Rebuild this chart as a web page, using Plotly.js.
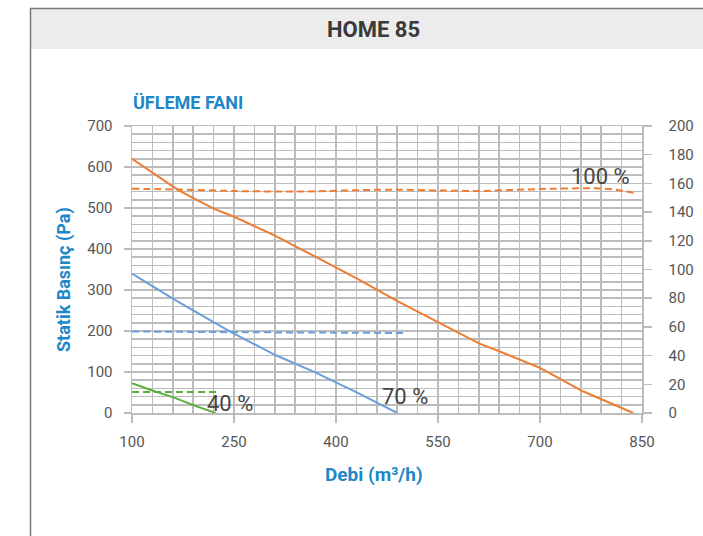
<!DOCTYPE html>
<html>
<head>
<meta charset="utf-8">
<script src="https://cdn.plot.ly/plotly-3.0.1.min.js"></script>
<style>
  html, body { margin: 0; padding: 0; background: #ffffff; }
  #chart { width: 703px; height: 536px; }
</style>
</head>
<body>
<div id="chart"></div>
<script>
// ---- Data ----
const flow100 = [100, 167, 190, 221, 251, 311, 371, 431, 491, 550, 611, 641, 700, 763, 837];
const pressure100 = [620, 545, 524, 498, 478, 432, 380, 328, 272, 221, 169, 150, 110, 53, 0];

const flow70 = [100, 163, 222, 245, 310, 371, 432, 490];
const pressure70 = [340, 276, 220, 198, 142, 98, 49, 0];

const flow40 = [100, 133, 163, 192, 223];
const pressure40 = [73, 53, 37, 18, 0];

const powerFlow100 = [100, 170, 250, 340, 464, 489, 550, 611, 700, 778, 812, 839];
const power100 = [156.3, 155.7, 154.7, 154.3, 155.6, 155.6, 155.1, 154.7, 156.1, 156.6, 155.6, 153.3];

const powerFlow70 = [100, 250, 400, 501];
const power70 = [56.8, 56.3, 56.0, 55.7];

const powerFlow40 = [100, 226];
const power40 = [14.6, 14.6];

const curveLabels = ["100 %", "70 %", "40 %"];
const labelFlow = [789, 501, 244];
const labelPressure = [578, 41, 24];

const xTickVals = [100, 250, 400, 550, 700, 850];
const chartTitle = "HOME 85";
const subTitle = "ÜFLEME FANI";
const xTitle = "Debi (m³/h)";
const yTitle = "Statik Basınç (Pa)";

// ---- Styling ----
const ORANGE = "#ed7d31";
const BLUE = "#6a9fdc";
const GREEN = "#5aae3e";
const GRID = "#bcbcbc";
const TICKTXT = "#555555";
const TITLEBLUE = "#1e87c8";
const FONT = "Roboto, 'Open Sans', sans-serif";

const W = 703, H = 536;
const M = { l: 132, r: 61, t: 126, b: 123 };
const pw = W - M.l - M.r, ph = H - M.t - M.b;
const px = x => (x - M.l) / pw;
const py = y => (H - M.b - y) / ph;

const solid = (x, y, c) => ({ x, y, type: "scatter", mode: "lines", xaxis: "x", yaxis: "y",
  line: { color: c, width: 2 }, hoverinfo: "skip", showlegend: false });
const dashed = (x, y, c) => ({ x, y, type: "scatter", mode: "lines", xaxis: "x", yaxis: "y2",
  line: { color: c, width: 2, dash: "7px,4px", shape: "spline", smoothing: 0.6 }, hoverinfo: "skip", showlegend: false });

const data = [
  dashed(powerFlow100, power100, ORANGE),
  dashed(powerFlow70, power70, BLUE),
  dashed(powerFlow40, power40, GREEN),
  solid(flow100, pressure100, ORANGE),
  solid(flow70, pressure70, BLUE),
  solid(flow40, pressure40, GREEN)
];

const annotations = curveLabels.map((t, i) => ({
  text: t, x: labelFlow[i], y: labelPressure[i], xref: "x", yref: "y",
  xanchor: "center", yanchor: "middle",
  showarrow: false, font: { family: FONT, size: 22, color: "#454545" }
}));

annotations.push(
  { text: chartTitle, xref: "paper", yref: "paper", x: px(373), y: py(29.5), xanchor: "center", yanchor: "middle", showarrow: false,
    font: { family: FONT, size: 22, color: "#3a3a3a", weight: 700 } },
  { text: subTitle, xref: "paper", yref: "paper", x: px(131), y: py(102), xanchor: "left", yanchor: "middle", showarrow: false,
    font: { family: FONT, size: 18, color: TITLEBLUE, weight: 700 } },
  { text: xTitle, xref: "paper", yref: "paper", x: px(374), y: py(474.5), xanchor: "center", yanchor: "middle", showarrow: false,
    font: { family: FONT, size: 19, color: TITLEBLUE, weight: 700 } },
  { text: yTitle, xref: "paper", yref: "paper", x: px(64), y: py(280), xanchor: "center", yanchor: "middle", textangle: -90, showarrow: false,
    font: { family: FONT, size: 18, color: TITLEBLUE, weight: 700 } }
);

const shapes = [
  { type: "rect", xref: "paper", yref: "paper", x0: px(31), x1: px(703), y0: py(9), y1: py(49),
    fillcolor: "#ececec", line: { width: 0 }, layer: "below" },
  { type: "line", xref: "paper", yref: "paper", x0: px(30.5), x1: px(30.5), y0: py(8), y1: py(536),
    line: { color: "#7a7a7a", width: 1.5 }, layer: "below" },
  { type: "line", xref: "paper", yref: "paper", x0: px(30), x1: px(703), y0: py(8.5), y1: py(8.5),
    line: { color: "#7a7a7a", width: 1.5 }, layer: "below" }
];

const tickFont = { family: FONT, size: 15, color: TICKTXT };

const layout = {
  width: W, height: H,
  margin: { l: M.l, r: M.r, t: M.t, b: M.b, pad: 0 },
  paper_bgcolor: "#ffffff", plot_bgcolor: "#ffffff",
  showlegend: false,
  xaxis: {
    range: [100, 850], tickmode: "array", tickvals: xTickVals,
    ticks: "outside", ticklen: 8, tickwidth: 1.5, tickcolor: GRID,
    showgrid: true, gridcolor: GRID, gridwidth: 1.5,
    minor: { tick0: 100, dtick: 30, showgrid: true, gridcolor: GRID, gridwidth: 1.5, ticks: "" },
    showline: true, linecolor: GRID, linewidth: 1.5, mirror: true,
    zeroline: false, tickfont: tickFont, ticklabelstandoff: 6, fixedrange: true
  },
  yaxis: {
    range: [0, 700], tick0: 0, dtick: 100,
    ticks: "outside", ticklen: 7, tickwidth: 1.5, tickcolor: GRID,
    showgrid: true, gridcolor: GRID, gridwidth: 1.5,
    minor: { tick0: 0, dtick: 20, showgrid: true, gridcolor: GRID, gridwidth: 1.5, ticks: "" },
    showline: true, linecolor: GRID, linewidth: 1.5, mirror: true,
    zeroline: false, tickfont: tickFont, ticklabelstandoff: 8, fixedrange: true
  },
  yaxis2: {
    range: [0, 200], tick0: 0, dtick: 20, overlaying: "y", side: "right",
    ticks: "outside", ticklen: 8, tickwidth: 1.5, tickcolor: GRID,
    showgrid: false, showline: true, linecolor: GRID, linewidth: 1.5,
    zeroline: false, tickfont: tickFont, ticklabelstandoff: 14, fixedrange: true
  },
  annotations, shapes
};

Plotly.newPlot("chart", data, layout, { displayModeBar: false, staticPlot: true });
</script>
</body>
</html>
